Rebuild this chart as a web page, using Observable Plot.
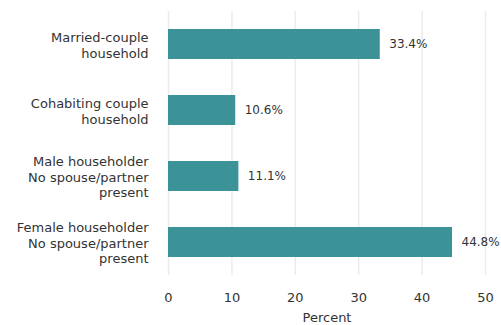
<!DOCTYPE html>
<html>
<head>
<meta charset="utf-8">
<script src="https://cdn.jsdelivr.net/npm/d3@7"></script>
<script src="https://cdn.jsdelivr.net/npm/@observablehq/plot@0.6"></script>
<style>
  html, body { margin: 0; padding: 0; background: #fff; }
  #chart svg { display: block; }
</style>
</head>
<body>
<div id="chart"></div>
<script>
const categories = [
  "Married-couple\nhousehold",
  "Cohabiting couple\nhousehold",
  "Male householder\nNo spouse/partner\npresent",
  "Female householder\nNo spouse/partner\npresent"
];
const values = [33.4, 10.6, 11.1, 44.8];
const xTicks = [0, 10, 20, 30, 40, 50];

const data = categories.map((c, i) => ({category: c, value: values[i]}));

const chart = Plot.plot({
  width: 501,
  height: 325,
  marginLeft: 168,
  marginRight: 16,
  marginTop: 11,
  marginBottom: 50,
  style: {fontFamily: "DejaVu Sans, Verdana, sans-serif", fontSize: "12px", color: "#333"},
  x: {domain: [0, 50], ticks: xTicks, label: "Percent", labelAnchor: "center", tickSize: 0},
  y: {domain: categories, label: null, paddingInner: 0.544, paddingOuter: 0.27, tickSize: 0},
  marks: [
    Plot.gridX(xTicks, {stroke: "#ebebeb", strokeOpacity: 1, strokeWidth: 1.5}),
    Plot.barX(data, {x: "value", y: "category", fill: "#3b9398"}),
    Plot.text(data, {x: "value", y: "category", text: d => d.value.toFixed(1) + "%", textAnchor: "start", dx: 9, fill: "#333", fontSize: 12, style: {letterSpacing: "0.3px"}}),
    Plot.axisY({tickSize: 0, tickPadding: 20, label: null, lineHeight: 1.22, fontSize: 13, style: {letterSpacing: "0.35px"}}),
    Plot.axisX({ticks: xTicks, tickSize: 0, tickPadding: 17, fontSize: 13, label: "Percent", labelArrow: "none", labelAnchor: "center", labelOffset: 46, style: {letterSpacing: "1.2px"}})
  ]
});
document.getElementById("chart").appendChild(chart);
</script>
</body>
</html>
